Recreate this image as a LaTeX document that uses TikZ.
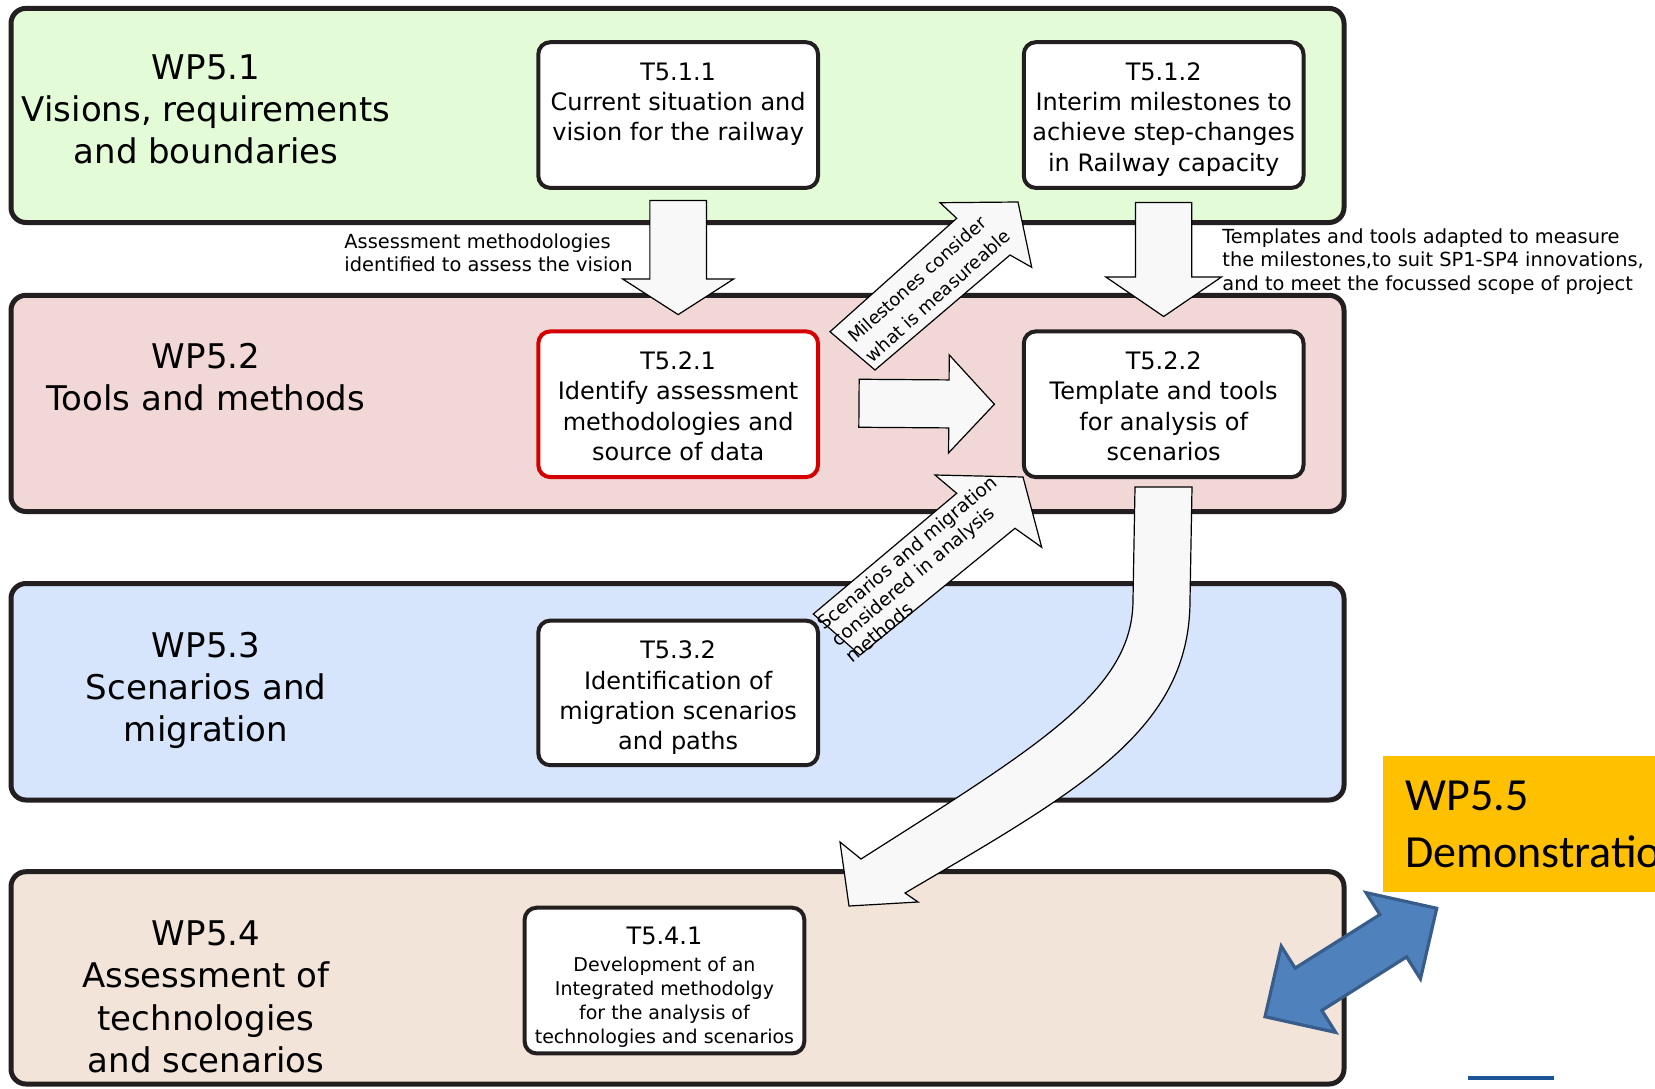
\documentclass[tikz,border=0pt]{standalone}
\usepackage{fontspec}
\setmainfont{DejaVu Sans}
\newfontfamily\calibrifont{Carlito}
\usetikzlibrary{fit,calc}

\definecolor{frame}{HTML}{231F20}
\definecolor{visionfill}{HTML}{E3FCD7}
\definecolor{toolfill}{HTML}{F2D7D7}
\definecolor{scenfill}{HTML}{D6E4FC}
\definecolor{assessfill}{HTML}{F3E4D9}
\definecolor{flowfill}{HTML}{F8F8F8}
\definecolor{redframe}{HTML}{D40000}
\definecolor{demofill}{HTML}{FFC000}
\definecolor{linkfill}{HTML}{4F81BD}
\definecolor{linkline}{HTML}{385D8A}
\definecolor{rulecol}{HTML}{1B5596}

\tikzset{
  band/.style={draw=frame, line width=2.5pt, rounded corners=7.5pt, inner sep=0pt},
  taskbox/.style={draw=frame, fill=white, line width=2pt, rounded corners=6pt, inner sep=0pt},
  wplabel/.style={align=center, font=\fontsize{17}{21.1}\selectfont, inner sep=0pt, anchor=north},
  tasktext/.style={align=center, font=\fontsize{12}{15.1}\selectfont, inner sep=0pt, anchor=north},
  notetext/.style={align=left, font=\fontsize{9.7}{11.65}\selectfont, inner sep=0pt, anchor=north west},
  flowarrow/.style={draw=black, fill=flowfill, line width=0.6pt, line join=miter},
  flowtext/.style={align=left, font=\fontsize{9}{13}\selectfont, inner sep=0pt},
  linkarrow/.style={draw=linkline, fill=linkfill, line width=1.6pt, line join=miter},
}

% block arrow: [style]{tail}{tip}{shaft half width}{head half width}{head length}
\newcommand\blockarrow[6][]{%
  \coordinate (ba-h) at ($(#3)!#6!(#2)$);
  \draw[flowarrow,#1] ($(#2)!#4!90:(#3)$) -- ($(ba-h)!#4!-90:(#2)$)
    -- ($(ba-h)!#5!-90:(#2)$) -- (#3) -- ($(ba-h)!#5!90:(#2)$)
    -- ($(ba-h)!#4!90:(#2)$) -- ($(#2)!#4!-90:(#3)$) -- cycle;}

% double-headed block arrow: [style]{end a}{end b}{shaft half width}{head half width}{head length}
\newcommand\doubleblock[6][]{%
  \coordinate (db-a) at ($(#2)!#6!(#3)$);
  \coordinate (db-b) at ($(#3)!#6!(#2)$);
  \draw[#1] (#2) -- ($(db-a)!#5!90:(#3)$) -- ($(db-a)!#4!90:(#3)$)
    -- ($(db-b)!#4!-90:(#2)$) -- ($(db-b)!#5!-90:(#2)$) -- (#3)
    -- ($(db-b)!#5!90:(#2)$) -- ($(db-b)!#4!90:(#2)$)
    -- ($(db-a)!#4!-90:(#3)$) -- ($(db-a)!#5!-90:(#3)$) -- cycle;}

\begin{document}
\begin{tikzpicture}[x=0.5pt, y=-0.5pt]
\clip (0,0) rectangle (1655,1088);
\fill[white] (0,0) rectangle (1655,1088);

% work package bands
\node[band, fill=visionfill, fit={(11,8.4) (1344,222.5)}] (wp51) {};
\node[band, fill=toolfill, fit={(11,295.3) (1344,511.5)}] (wp52) {};
\node[band, fill=scenfill, fit={(11,583.5) (1344,800)}] (wp53) {};
\node[band, fill=assessfill, fit={(11,871.7) (1344,1084)}] (wp54) {};

\node[wplabel] (wp51t) at (206,54) {WP5.1\\Visions, requirements\\and boundaries};
\node[wplabel] (wp52t) at (206,343) {WP5.2\\Tools and methods};
\node[wplabel] (wp53t) at (206,631.5) {WP5.3\\Scenarios and\\migration};
\node[wplabel] (wp54t) at (206,920.5) {WP5.4\\Assessment of\\technologies\\and scenarios};

% tasks
\node[taskbox, fit={(538.3,42.2) (818,187.9)}] (t511) {};
\node[taskbox, fit={(1023.8,42.2) (1303.5,187.9)}] (t512) {};
\node[taskbox, draw=redframe, fit={(538.3,331.4) (818,477.1)}] (t521) {};
\node[taskbox, fit={(1023.8,331.4) (1303.5,477.1)}] (t522) {};
\node[taskbox, fit={(538.3,620.6) (818,765.2)}] (t532) {};
\node[taskbox, fit={(524.6,907.7) (804.3,1053.4)}] (t541) {};

\node[tasktext] (t511t) at ($(t511.north)+(0,22)$) {T5.1.1\\Current situation and\\vision for the railway};
\node[tasktext] (t512t) at ($(t512.north)+(0,22)$) {T5.1.2\\Interim milestones to\\achieve step-changes\\in Railway capacity};
\node[tasktext] (t521t) at ($(t521.north)+(0,22)$) {T5.2.1\\Identify assessment\\methodologies and\\source of data};
\node[tasktext] (t522t) at ($(t522.north)+(0,22)$) {T5.2.2\\Template and tools\\for analysis of\\scenarios};
\node[tasktext] (t532t) at ($(t532.north)+(0,22)$) {T5.3.2\\Identification of\\migration scenarios\\and paths};
\node[tasktext, font=\fontsize{9.5}{12.1}\selectfont] (t541t) at ($(t541.north)+(0,21)$)
  {{\fontsize{12}{15}\selectfont T5.4.1}\\[1.2pt]Development of an\\Integrated methodolgy\\for the analysis of\\technologies and scenarios};

% flow annotations
\node[notetext] (n1) at (344,233.5) {Assessment methodologies\\identified to assess the vision};
\node[notetext] (n2) at (1222,228.4) {Templates and tools adapted to measure\\the milestones,to suit SP1-SP4 innovations,\\and to meet the focussed scope of project};

% straight block arrows between tasks
\coordinate (a1s) at ($(t511.south)+(0,10.6)$);
\coordinate (a1e) at ($(t521.north)+(0,-14.8)$);
\blockarrow{a1s}{a1e}{14.15pt}{27.75pt}{17.8pt}

\coordinate (a2s) at ($(t512.south)+(0,12.6)$);
\coordinate (a2e) at ($(t522.north)+(0,-12.9)$);
\blockarrow{a2s}{a2e}{14.05pt}{28.9pt}{19.75pt}

\coordinate (a3s) at ($(t521.east)+(39,-1)$);
\coordinate (a3e) at ($(t522.west)+(-27.4,0)$);
\blockarrow{a3s}{a3e}{12pt}{24.5pt}{22.75pt}

% slanted labelled arrows (heads drawn slightly skewed)
\coordinate (a4s) at ($(t521.north east)+(34.5,19.4)$);
\coordinate (a4e) at ($(t512.south west)+(-3.8,12.1)$);
\draw[flowarrow] (830,331.7) -- (956.7,218.3) -- (940,202.7) -- (a4e)
  -- (1031.7,267.3) -- (1010,255) -- (875,370) -- cycle;
\node[flowtext, rotate=42] (a4t) at (929,286) {Milestones consider\\what is measureable};

\coordinate (a5s) at ($(t532.north east)+(18.7,13.9)$);
\coordinate (a5e) at ($(t522.south west)+(1.2,-2.1)$);
\draw[flowarrow] (813.3,614) -- (956.7,493.3) -- (935,475) -- (a5e)
  -- (1041.7,547.3) -- (1015,528.3) -- (860,655) -- cycle;
\node[flowtext, font=\fontsize{9.3}{10.8}\selectfont, rotate=40] (a5t) at (921,569)
  {Scenarios and migration\\considered in analysis\\methods};

% curved block arrow from T5.2.2 down to WP5.4
\draw[flowarrow] (1135,487) -- (1133,600) .. controls (1133,690) and (1040,745) .. (861,859)
  -- (840,842) -- (849,906) -- (918,902) -- (905,893)
  .. controls (1080,790) and (1190,730) .. (1190,600) -- (1192,487) -- cycle;

% demonstration work package
\node[fill=demofill, inner sep=0pt, fit={(1383.3,756) (1720,891.7)}] (wp55) {};
\node[anchor=north west, align=left, inner sep=0pt, font=\calibrifont\fontsize{23}{28.3}\selectfont]
  (wp55t) at (1405,781) {WP5.5\\Demonstration};

\coordinate (l1) at (1265,1016.7);
\coordinate (l2) at (1436.7,908.3);
\doubleblock[linkarrow]{l1}{l2}{12.5pt}{25.5pt}{25.7pt}

\fill[rulecol] (1468,1076) rectangle (1554,1080);
\end{tikzpicture}
\end{document}
